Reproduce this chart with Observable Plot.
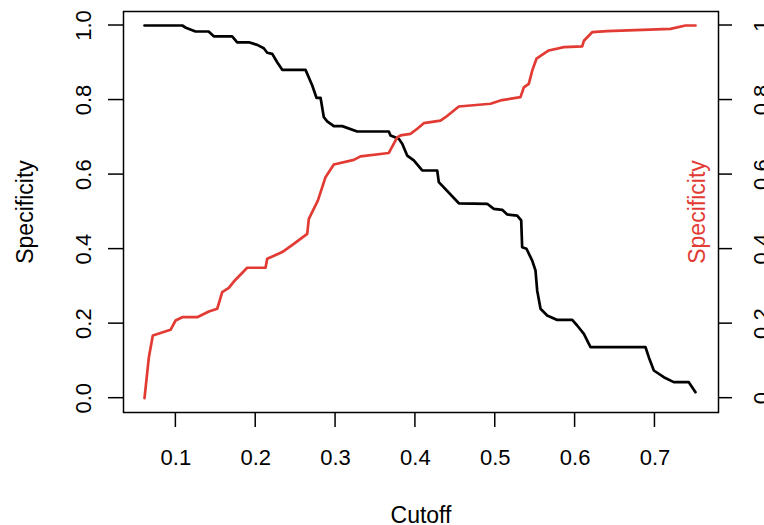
<!DOCTYPE html>
<html>
<head>
<meta charset="utf-8">
<script src="https://cdn.jsdelivr.net/npm/d3@7"></script>
<script src="https://cdn.jsdelivr.net/npm/@observablehq/plot@0.6"></script>
<style>
  html, body { margin: 0; padding: 0; background: #fff; overflow: hidden; }
  #chart svg { display: block; }
</style>
</head>
<body>
<div id="chart"></div>
<script>
// Black curve (decreasing) : cutoff, value
const blackCutoff = [0.0607,0.108,0.1125,0.1246,0.141,0.1475,0.1705,0.1768,0.1914,0.2019,0.2101,0.2144,0.2207,0.2269,0.2332,0.2624,0.2708,0.2761,0.2812,0.2853,0.2895,0.2978,0.3083,0.3271,0.3667,0.3688,0.3792,0.3835,0.3897,0.398,0.4085,0.4273,0.4293,0.4544,0.4899,0.4982,0.5087,0.515,0.5275,0.5325,0.5337,0.5391,0.5463,0.5504,0.5525,0.5567,0.565,0.5776,0.5964,0.6026,0.611,0.6193,0.6882,0.6923,0.6986,0.7111,0.7236,0.7424,0.7508];
const blackValue  = [1.0,1.0,0.994,0.984,0.984,0.971,0.971,0.955,0.955,0.948,0.939,0.927,0.924,0.9015,0.881,0.881,0.839,0.806,0.806,0.754,0.743,0.730,0.730,0.7156,0.7156,0.705,0.696,0.6826,0.651,0.638,0.611,0.611,0.5796,0.523,0.5216,0.508,0.5055,0.493,0.490,0.477,0.405,0.401,0.369,0.3426,0.289,0.240,0.222,0.210,0.210,0.195,0.1728,0.1368,0.1368,0.110,0.0743,0.0563,0.043,0.043,0.016];

// Red curve (increasing) : cutoff, value
const redCutoff = [0.0607,0.0662,0.0711,0.0933,0.0996,0.108,0.1267,0.1413,0.1518,0.158,0.1663,0.1726,0.1893,0.2123,0.2144,0.2332,0.2477,0.2645,0.2665,0.2778,0.2874,0.2978,0.3229,0.3312,0.3667,0.3772,0.3813,0.3938,0.4023,0.4105,0.4314,0.4377,0.4544,0.494,0.5066,0.5316,0.5358,0.542,0.5463,0.5516,0.567,0.5859,0.6089,0.611,0.6214,0.640,0.7195,0.7383,0.7508];
const redValue  = [0.0,0.110,0.168,0.1835,0.2085,0.2174,0.2174,0.2326,0.240,0.2844,0.296,0.313,0.350,0.350,0.374,0.392,0.414,0.441,0.481,0.530,0.593,0.627,0.6396,0.649,0.658,0.700,0.705,0.7094,0.723,0.738,0.745,0.754,0.7827,0.790,0.799,0.808,0.834,0.8436,0.879,0.911,0.933,0.942,0.944,0.959,0.982,0.985,0.991,1.0,1.0];

const xTicks = [0.1,0.2,0.3,0.4,0.5,0.6,0.7];
const xTickLabels = ["0.1","0.2","0.3","0.4","0.5","0.6","0.7"];
const yTicks = [0,0.2,0.4,0.6,0.8,1.0];
const yLeftLabels = ["0.0","0.2","0.4","0.6","0.8","1.0"];
const yRightLabels = ["0","0.2","0.4","0.6","0.8","1"];

const xLabel = "Cutoff";
const yLeftTitle = "Specificity";
const yRightTitle = "Specificity";

const black = blackCutoff.map((c, i) => ({c, v: blackValue[i]}));
const red = redCutoff.map((c, i) => ({c, v: redValue[i]}));
const xT = xTicks.map((t, i) => ({t, label: xTickLabels[i]}));
const yL = yTicks.map((t, i) => ({t, label: yLeftLabels[i]}));
const yR = yTicks.map((t, i) => ({t, label: yRightLabels[i]}));

const RED = "#e23b34";
const FONT = "'Liberation Sans', Arial, Helvetica, sans-serif";

const chart = Plot.plot({
  width: 764,
  height: 525,
  marginLeft: 123,
  marginRight: 46,
  marginTop: 11,
  marginBottom: 113,
  style: {fontFamily: FONT, background: "#fff", overflow: "hidden"},
  x: {domain: [0.0344, 0.7796], axis: null},
  y: {domain: [-0.0384, 1.0376], axis: null},
  marks: [
    Plot.frame({stroke: "#000", strokeWidth: 1.5}),
    // bottom tick labels
    Plot.text(xT, {x: "t", text: "label", frameAnchor: "bottom", dy: 52, fontSize: 22, fill: "#000", lineAnchor: "bottom", textAnchor: "middle"}),
    // left tick labels
    Plot.text(yL, {y: "t", text: "label", frameAnchor: "left", dx: -33, rotate: -90, fontSize: 22, fill: "#000", lineAnchor: "bottom", textAnchor: "middle"}),
    // right tick labels
    Plot.text(yR, {y: "t", text: "label", frameAnchor: "right", dx: 50, rotate: -90, fontSize: 22, fill: "#000", lineAnchor: "bottom", textAnchor: "middle"}),
    // titles
    Plot.text([xLabel], {text: d => d, frameAnchor: "bottom", dy: 110, fontSize: 23, fill: "#000", lineAnchor: "bottom", textAnchor: "middle"}),
    Plot.text([yLeftTitle], {text: d => d, frameAnchor: "left", dx: -91, rotate: -90, fontSize: 23, fill: "#000", lineAnchor: "bottom", textAnchor: "middle"}),
    Plot.text([yRightTitle], {text: d => d, frameAnchor: "right", dx: -13.5, rotate: -90, fontSize: 23, fill: RED, lineAnchor: "bottom", textAnchor: "middle"}),
    // curves
    Plot.line(black, {x: "c", y: "v", stroke: "#000", strokeWidth: 2.7, strokeLinejoin: "round"}),
    Plot.line(red, {x: "c", y: "v", stroke: RED, strokeWidth: 2.7, strokeLinejoin: "round"})
  ]
});

// axis tick segments positioned with the library's scales
const sx = chart.scale("x"), sy = chart.scale("y");
const svg = d3.select(chart);
const g = svg.append("g").attr("stroke", "#000").attr("stroke-width", 1.5);
xTicks.forEach(t => g.append("line").attr("x1", sx.apply(t)).attr("x2", sx.apply(t)).attr("y1", 412).attr("y2", 427));
yTicks.forEach(t => {
  g.append("line").attr("x1", 108).attr("x2", 123).attr("y1", sy.apply(t)).attr("y2", sy.apply(t));
  g.append("line").attr("x1", 718).attr("x2", 732).attr("y1", sy.apply(t)).attr("y2", sy.apply(t));
});

document.getElementById("chart").appendChild(chart);
</script>
</body>
</html>
